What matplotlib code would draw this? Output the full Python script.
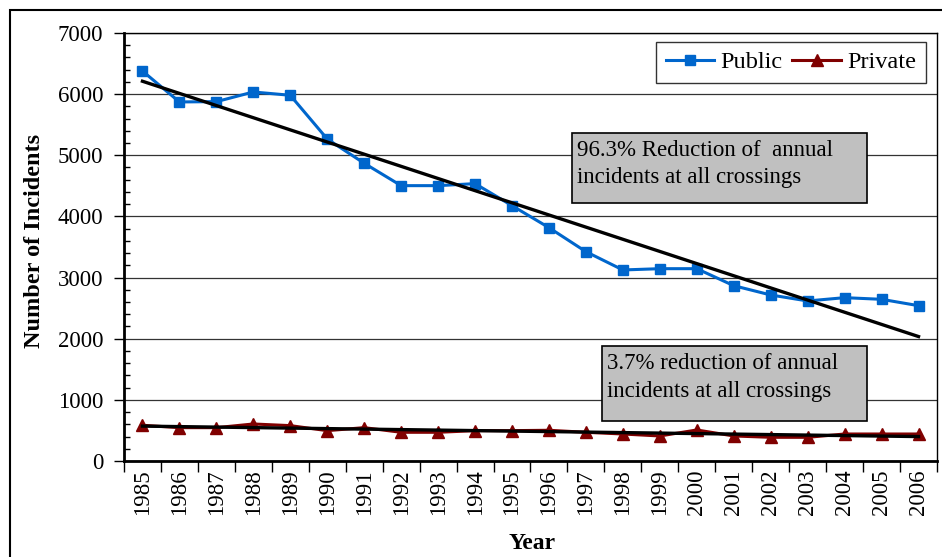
import numpy as np
import matplotlib
matplotlib.use("Agg")
from matplotlib import pyplot as plt
from matplotlib.patches import Rectangle

# data
years = ["1985", "1986", "1987", "1988", "1989", "1990", "1991", "1992",
         "1993", "1994", "1995", "1996", "1997", "1998", "1999", "2000",
         "2001", "2002", "2003", "2004", "2005", "2006"]
public = [6378, 5872, 5877, 6035, 5981, 5266, 4869, 4503, 4503, 4536, 4176,
          3816, 3423, 3124, 3145, 3145, 2867, 2715, 2617, 2671, 2644, 2540]
private = [584, 545, 545, 605, 578, 496, 545, 469, 469, 496, 496,
           502, 469, 441, 409, 507, 409, 387, 387, 441, 441, 441]
note_public = "96.3% Reduction of  annual\nincidents at all crossings"
note_private = "3.7% reduction of annual\nincidents at all crossings"

plt.rcParams['font.family'] = ['Liberation Serif', 'DejaVu Serif']

fig = plt.figure(figsize=(9.42, 5.57), dpi=100)
ax = fig.add_axes([0.1316, 0.1724, 0.8631, 0.7684])

idx = np.arange(len(years))
ax.plot(idx, public, color="#0066CC", lw=2.2, marker="s", ms=7.5,
        label="Public", zorder=4)
ax.plot(idx, private, color="#800000", lw=2.2, marker="^", ms=8.5,
        label="Private", zorder=4)

# linear trend lines (Excel style)
for series in (public, private):
    k, b = np.polyfit(idx, series, 1)
    ax.plot(idx[[0, -1]], k * idx[[0, -1]] + b, color="black", lw=2.4, zorder=5)

ax.set_xlim(-0.5, len(years) - 0.5)
ax.set_ylim(0, 7000)
ax.set_yticks(np.arange(0, 7001, 1000))
ax.set_yticks(np.arange(0, 7001, 200), minor=True)
ax.yaxis.grid(True, which="major", color="#333333", lw=0.9)
ax.set_axisbelow(True)

ax.set_xticks(np.arange(-0.5, len(years), 1.0))
ax.set_xticklabels([])
ax.set_xticks(idx, minor=True)
ax.set_xticklabels(years, minor=True, rotation=90, fontsize=16.5)
ax.tick_params(axis="x", which="major", direction="out", length=8, width=1)
ax.tick_params(axis="x", which="minor", length=0, pad=6)
ax.tick_params(axis="y", which="major", direction="out", length=7, width=1,
               labelsize=16.5, pad=8)
ax.tick_params(axis="y", which="minor", direction="in", length=4, width=1)

for s in ax.spines.values():
    s.set_linewidth(1.0)
ax.spines["left"].set_linewidth(2)
ax.spines["bottom"].set_linewidth(2)

ax.set_ylabel("Number of Incidents", fontsize=17.5, fontweight="bold")
ax.yaxis.set_label_coords(-0.097, 0.515)
ax.set_xlabel("Year", fontsize=17, fontweight="bold")
ax.xaxis.set_label_coords(0.502, -0.168)

leg = ax.legend(loc="upper right", bbox_to_anchor=(0.986, 0.98), ncol=2,
                fontsize=17.5, frameon=True, fancybox=False, edgecolor="black",
                handlelength=2.0, handletextpad=0.25, columnspacing=0.4,
                borderpad=0.4, borderaxespad=0)
leg.get_frame().set_linewidth(1.0)

# annotation boxes
ax.add_patch(Rectangle((0.5507, 0.6021), 0.3628, 0.1636, transform=ax.transAxes,
                       facecolor="#C0C0C0", edgecolor="black", lw=1.2, zorder=3))
ax.text(0.557, 0.75, note_public, transform=ax.transAxes, fontsize=16.5,
        va="top", ha="left", linespacing=1.4, zorder=3.5)
ax.add_patch(Rectangle((0.588, 0.0942), 0.3255, 0.1752, transform=ax.transAxes,
                       facecolor="#C0C0C0", edgecolor="black", lw=1.2, zorder=3))
ax.text(0.594, 0.252, note_private, transform=ax.transAxes, fontsize=16.5,
        va="top", ha="left", linespacing=1.4, zorder=3.5)

# outer chart border
fig.patches.append(Rectangle((10 / 942, -0.05), 1.0, 1 - 10 / 557 + 0.05,
                             transform=fig.transFigure, fill=False,
                             edgecolor="black", lw=1.5))

fig.savefig("out.png", dpi=100, facecolor="white")
